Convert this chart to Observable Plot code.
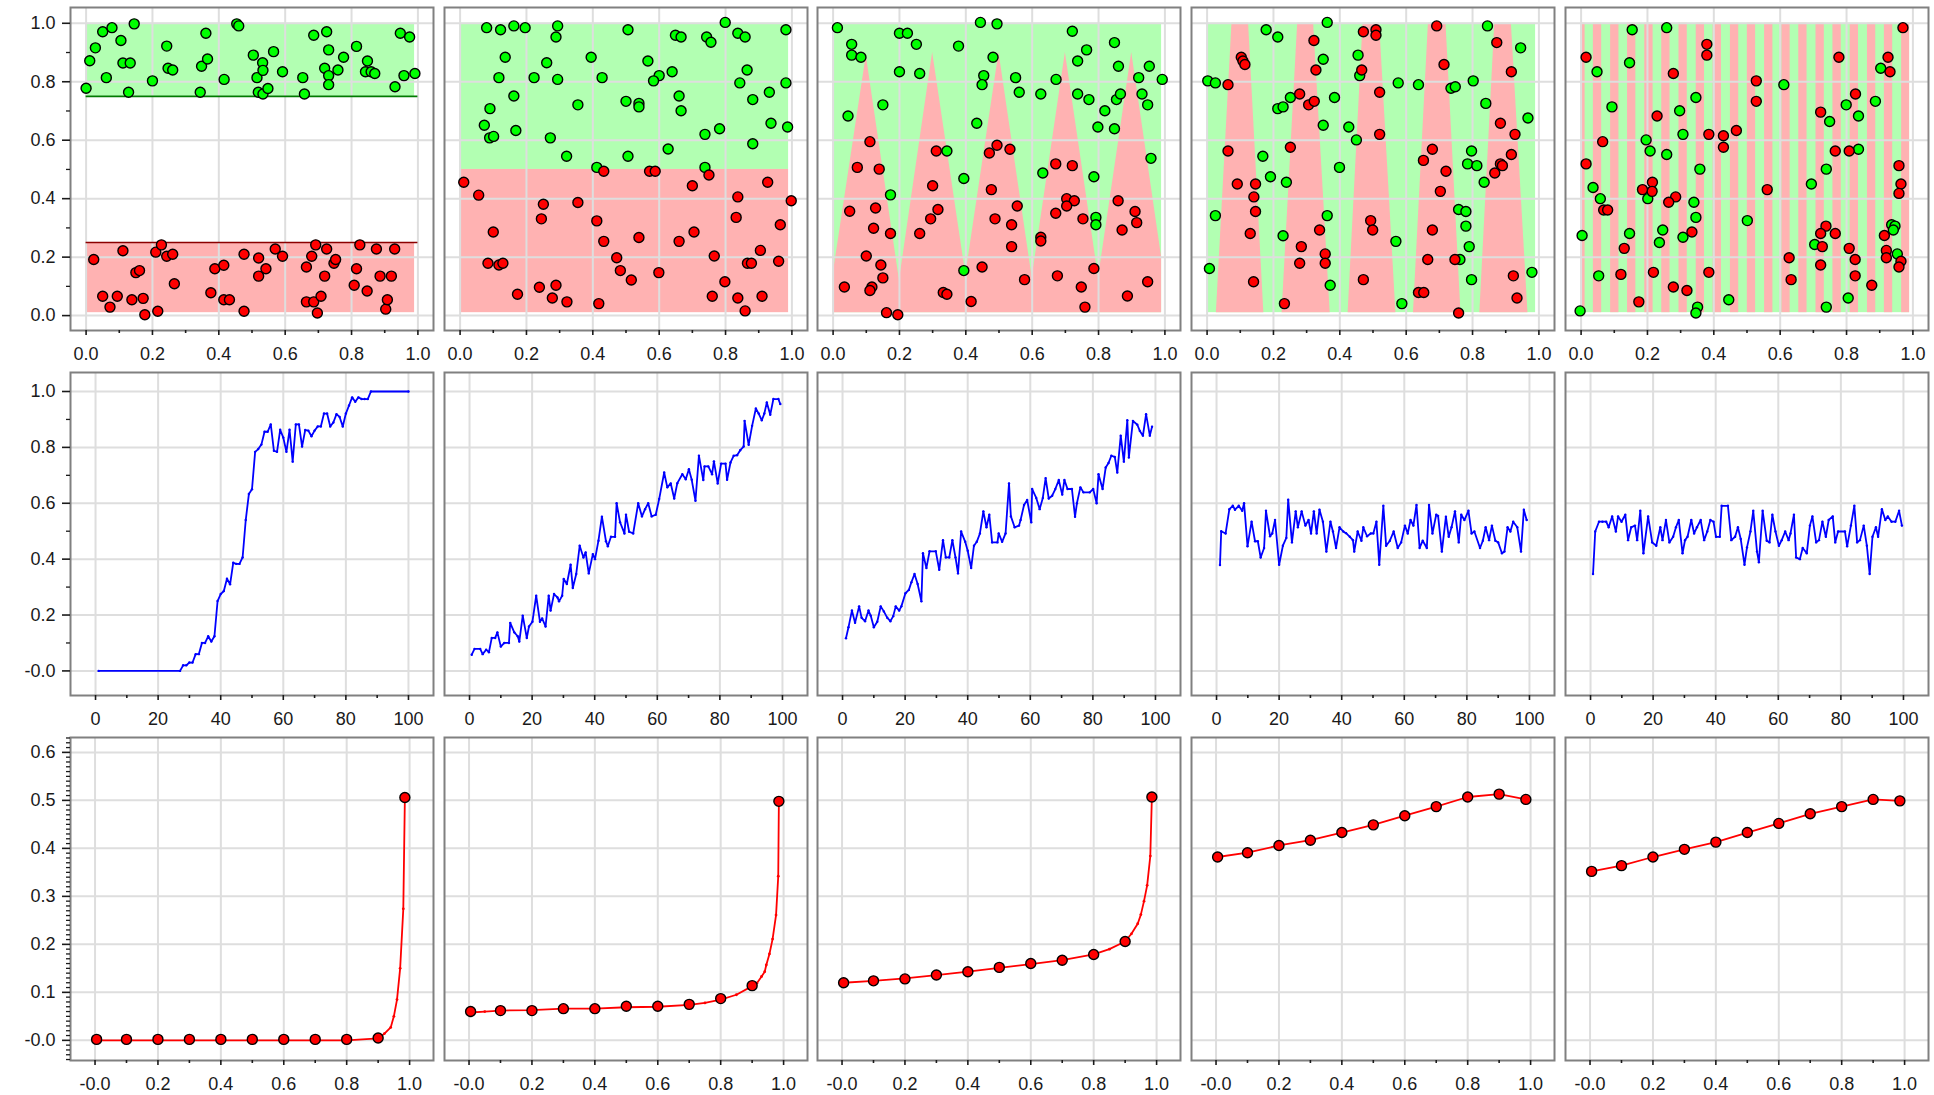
<!DOCTYPE html>
<html><head><meta charset="utf-8">
<script src="https://cdn.jsdelivr.net/npm/d3@7"></script>
<script src="https://cdn.jsdelivr.net/npm/@observablehq/plot@0.6"></script>
<style>
body{margin:0;background:#fff;}
#root{position:relative;width:1934px;height:1095px;overflow:hidden;font-family:"Liberation Sans",Arial,sans-serif;background:#fff;}
#root svg{position:absolute;}
</style></head><body><div id="root"></div>
<script>
// ---------- Row 1: scatter points (x, y) ----------
const green1=[[0,.778],[.011,.872],[.028,.916],[.05,.971],[.061,.814],[.078,.985],[.105,.941],[.111,.864],[.128,.764],[.133,.864],[.145,.998],[.2,.803],[.243,.922],[.247,.846],[.261,.84],[.344,.764],[.348,.853],[.361,.966],[.366,.878],[.416,.808],[.454,.998],[.46,.991],[.504,.891],[.515,.814],[.519,.764],[.532,.865],[.533,.839],[.533,.758],[.548,.777],[.565,.903],[.592,.834],[.653,.814],[.658,.758],[.686,.959],[.719,.846],[.725,.971],[.731,.909],[.731,.821],[.731,.79],[.759,.84],[.776,.884],[.815,.921],[.842,.834],[.848,.871],[.859,.834],[.87,.828],[.931,.783],[.947,.966],[.958,.821],[.975,.953],[.991,.828]];
const red1=[[.023,.192],[.05,.066],[.072,.029],[.094,.066],[.111,.222],[.138,.054],[.15,.147],[.161,.154],[.172,.059],[.177,.003],[.21,.217],[.216,.015],[.227,.242],[.243,.203],[.261,.21],[.266,.109],[.376,.078],[.388,.16],[.415,.172],[.415,.054],[.432,.054],[.476,.21],[.476,.015],[.52,.197],[.52,.135],[.542,.16],[.57,.228],[.592,.203],[.664,.166],[.664,.047],[.68,.203],[.686,.047],[.692,.242],[.697,.009],[.708,.066],[.719,.135],[.725,.228],[.747,.179],[.752,.192],[.808,.104],[.815,.16],[.825,.242],[.847,.084],[.875,.228],[.886,.135],[.903,.022],[.908,.054],[.92,.135],[.93,.228]];
const green2=[[.08,.985],[.122,.978],[.162,.991],[.196,.985],[.294,.991],[.289,.953],[.506,.978],[.649,.959],[.666,.953],[.743,.953],[.756,.935],[.799,1.003],[.837,.966],[.859,.953],[.982,.978],[.136,.884],[.261,.865],[.395,.884],[.566,.871],[.117,.814],[.223,.814],[.294,.808],[.428,.814],[.6,.821],[.583,.803],[.639,.834],[.865,.84],[.843,.796],[.982,.796],[.162,.751],[.5,.733],[.539,.726],[.539,.714],[.66,.751],[.882,.739],[.932,.764],[.09,.708],[.355,.721],[.666,.701],[.073,.651],[.089,.608],[.101,.613],[.168,.633],[.272,.608],[.738,.62],[.782,.639],[.937,.658],[.987,.645],[.321,.545],[.506,.545],[.627,.57],[.882,.588],[.412,.507],[.738,.507]];
const red2=[[.011,.456],[.056,.412],[.433,.494],[.571,.494],[.588,.494],[.75,.481],[.7,.444],[.927,.456],[.837,.406],[.998,.393],[.251,.381],[.355,.387],[.245,.331],[.412,.324],[.832,.336],[.965,.311],[.1,.286],[.705,.286],[.433,.254],[.539,.267],[.66,.254],[.905,.223],[.472,.198],[.766,.204],[.084,.179],[.117,.173],[.129,.179],[.866,.179],[.878,.179],[.96,.186],[.483,.154],[.599,.147],[.516,.122],[.798,.116],[.239,.097],[.289,.104],[.173,.073],[.278,.06],[.322,.047],[.418,.041],[.76,.066],[.837,.06],[.91,.066],[.859,.016]];
const green3=[[.013,.985],[.056,.928],[.056,.891],[.084,.884],[.2,.966],[.224,.966],[.251,.928],[.261,.828],[.2,.834],[.378,.922],[.444,1.003],[.494,.998],[.482,.884],[.454,.821],[.449,.79],[.55,.814],[.561,.764],[.626,.758],[.672,.808],[.721,.973],[.764,.909],[.737,.871],[.737,.758],[.771,.739],[.819,.701],[.798,.645],[.848,.639],[.848,.934],[.86,.853],[.854,.739],[.866,.758],[.921,.814],[.931,.758],[.948,.721],[.953,.853],[.992,.808],[.045,.683],[.15,.721],[.433,.658],[.343,.563],[.173,.413],[.394,.469],[.632,.488],[.786,.475],[.792,.336],[.792,.311],[.958,.538],[.394,.154]];
const red3=[[.111,.595],[.073,.507],[.139,.501],[.05,.357],[.128,.368],[.122,.299],[.173,.281],[.1,.204],[.144,.173],[.15,.129],[.034,.098],[.117,.098],[.111,.086],[.161,.01],[.195,.003],[.311,.563],[.3,.444],[.316,.363],[.294,.331],[.261,.281],[.332,.079],[.343,.073],[.416,.048],[.449,.166],[.577,.123],[.494,.583],[.471,.556],[.533,.569],[.477,.431],[.488,.331],[.555,.375],[.538,.311],[.538,.236],[.626,.268],[.626,.255],[.671,.519],[.721,.513],[.704,.4],[.727,.393],[.704,.375],[.671,.35],[.753,.331],[.786,.161],[.676,.136],[.748,.098],[.759,.029],[.859,.393],[.91,.356],[.915,.318],[.871,.293],[.887,.067],[.948,.116]];
const green4=[[.002,.803],[.025,.796],[.178,.978],[.213,.953],[.362,1.003],[.845,.991],[.945,.916],[.35,.877],[.455,.891],[.46,.821],[.576,.796],[.637,.79],[.735,.778],[.748,.783],[.802,.803],[.84,.726],[.967,.676],[.168,.545],[.191,.475],[.239,.456],[.213,.708],[.229,.714],[.251,.746],[.384,.746],[.35,.651],[.427,.645],[.45,.601],[.399,.507],[.797,.563],[.785,.519],[.813,.513],[.835,.456],[.025,.342],[.362,.342],[.229,.273],[.569,.254],[.78,.306],[.758,.363],[.78,.356],[.79,.236],[.762,.192],[.007,.161],[.371,.104],[.587,.041],[.797,.123],[.979,.148]];
const red4=[[.103,.884],[.108,.871],[.114,.859],[.063,.79],[.322,.941],[.328,.84],[.279,.758],[.306,.721],[.323,.733],[.251,.576],[.471,.971],[.509,.978],[.509,.959],[.466,.84],[.52,.764],[.52,.62],[.692,.991],[.714,.859],[.873,.934],[.917,.834],[.884,.658],[.928,.62],[.917,.551],[.884,.519],[.89,.513],[.867,.488],[.063,.563],[.091,.45],[.146,.45],[.141,.406],[.146,.356],[.13,.281],[.14,.116],[.233,.041],[.284,.236],[.279,.179],[.339,.293],[.356,.211],[.356,.179],[.471,.123],[.493,.325],[.499,.293],[.679,.569],[.652,.531],[.72,.494],[.703,.425],[.679,.293],[.665,.192],[.747,.192],[.637,.079],[.653,.079],[.758,.009],[.923,.136],[.934,.06]];
const green5=[[.154,.978],[.258,.985],[.146,.865],[.048,.834],[.093,.714],[.346,.746],[.297,.701],[.307,.62],[.611,.79],[.799,.721],[.836,.683],[.887,.733],[.903,.846],[.749,.664],[.196,.601],[.208,.563],[.258,.551],[.358,.501],[.836,.569],[.739,.501],[.694,.45],[.036,.438],[.058,.4],[.201,.4],[.34,.388],[.346,.336],[.246,.293],[.146,.281],[.003,.274],[.236,.25],[.307,.268],[.501,.325],[.704,.243],[.936,.311],[.946,.306],[.941,.293],[.953,.211],[.053,.136],[.445,.054],[.805,.06],[.739,.029],[.351,.029],[.346,.009],[-.003,.016]];
const red5=[[.015,.884],[.015,.519],[.065,.595],[.068,.361],[.08,.361],[.13,.23],[.12,.141],[.174,.047],[.218,.148],[.278,.098],[.319,.086],[.334,.286],[.285,.406],[.264,.388],[.215,.456],[.214,.425],[.185,.431],[.229,.683],[.278,.828],[.379,.928],[.379,.891],[.385,.62],[.385,.148],[.429,.615],[.429,.576],[.468,.633],[.528,.803],[.528,.733],[.561,.431],[.627,.198],[.633,.123],[.722,.696],[.777,.884],[.827,.758],[.766,.563],[.808,.563],[.738,.306],[.722,.281],[.727,.236],[.766,.281],[.808,.23],[.826,.192],[.826,.136],[.722,.173],[.876,.104],[.925,.884],[.931,.834],[.97,.985],[.958,.513],[.964,.45],[.958,.418],[.914,.274],[.92,.223],[.92,.198],[.964,.186],[.958,.166]];

// ---------- Row 1: decision regions ----------
const region1 = {greenFrom:.75, redTo:.25};          // panel 1 thresholds
const split2 = .5;                                    // panel 2 threshold
const zigzag3 = [[0,.14],[.1,.89],[.2,.12],[.3,.9],[.4,.14],[.5,.9],[.6,.13],[.7,.9],[.8,.13],[.9,.9],[.99,.2]];
const bandsTop4 = [[.075,.125],[.273,.321],[.47,.52],[.667,.72],[.867,.917]];
const bandsBottom4 = [[.028,.171],[.226,.371],[.425,.569],[.622,.765],[.822,.967]];
const stripes5 = [[0,.012],[.037,.062],[.089,.114],[.14,.165],[.192,.217],[.243,.268],[.295,.32],[.347,.372],[.398,.423],[.45,.475],[.501,.526],[.553,.578],[.605,.63],[.656,.681],[.708,.733],[.759,.784],[.811,.836],[.863,.888],[.914,.939],[.966,.99]];
const regionX = [0, .99], regionY = [.01, 1.0];

// ---------- Row 2: blue curves (x, y) ----------
const probs1=[[1,0],[27,0],[28,.02],[29,.02],[30,.03],[31,.03],[32,.06],[33,.06],[34,.1],[35,.1],[36,.124],[37,.105],[38,.124],[39,.25],[40,.275],[41,.286],[42,.33],[43,.31],[44,.387],[45,.383],[46,.383],[47,.406],[48,.54],[49,.633],[50,.65],[51,.784],[52,.794],[53,.81],[54,.856],[55,.856],[56,.882],[57,.788],[58,.784],[59,.863],[60,.835],[61,.784],[62,.863],[63,.749],[64,.882],[65,.882],[66,.803],[67,.862],[68,.86],[69,.84],[70,.86],[71,.875],[72,.875],[73,.921],[74,.921],[75,.875],[76,.889],[77,.919],[78,.909],[79,.875],[80,.921],[81,.95],[82,.979],[83,.963],[84,.979],[85,.973],[86,.973],[87,.973],[88,1],[100,1]];
const probs2=[[.7,.058],[1.6,.079],[3.4,.079],[4.2,.06],[5.3,.076],[6.2,.067],[7.1,.118],[8.2,.118],[8.9,.138],[10,.087],[11.1,.1],[12.6,.1],[13,.172],[14.3,.138],[15.4,.124],[15.9,.105],[17,.198],[18.3,.118],[19,.159],[20.1,.176],[21.3,.269],[22.5,.176],[23.2,.188],[24.3,.159],[25.3,.269],[25.9,.216],[27,.275],[28.1,.263],[28.6,.249],[29.6,.269],[30.1,.329],[31.1,.311],[32.3,.38],[33,.297],[34.1,.347],[35.2,.448],[36.4,.406],[37.1,.424],[38.1,.349],[39.4,.418],[40.1,.4],[41.2,.466],[42.3,.552],[43.6,.464],[44.2,.446],[45.2,.48],[46.5,.48],[47,.6],[48.1,.532],[49.5,.492],[50,.559],[51,.498],[52.3,.492],[53.9,.6],[55.1,.553],[56.1,.579],[57.1,.6],[58.2,.553],[59.5,.559],[60.6,.615],[62.2,.71],[63.2,.657],[64.3,.671],[65.4,.617],[66.4,.672],[68,.704],[69.1,.686],[70.1,.722],[71,.684],[72.2,.609],[73.3,.77],[74.7,.683],[75.1,.732],[76.3,.732],[77.5,.704],[78.1,.75],[79.3,.671],[80.4,.742],[81.8,.742],[82.3,.684],[83.4,.746],[84.4,.77],[85.5,.772],[86.5,.79],[87.6,.803],[87.9,.895],[89.2,.809],[90.3,.877],[91.5,.939],[92.4,.921],[93.4,.897],[94.2,.921],[95,.961],[96.1,.917],[97.1,.973],[98.7,.973],[99.3,.955]];
const probs3=[[1.1,.117],[1.9,.156],[3,.216],[4,.172],[5.3,.231],[6.1,.19],[7.2,.178],[8.3,.216],[9,.198],[10,.156],[11.1,.176],[12.2,.231],[13.2,.213],[14.3,.19],[15.3,.178],[16.2,.196],[17,.231],[18.1,.216],[18.8,.231],[20.1,.278],[21.2,.29],[22,.317],[23,.347],[24,.311],[25.2,.249],[25.7,.421],[26.8,.368],[27.8,.428],[29.8,.428],[30.9,.362],[32.1,.468],[33,.406],[34.1,.406],[35.1,.468],[36.1,.406],[36.9,.349],[37.9,.499],[39.2,.462],[40,.43],[41.1,.368],[42,.448],[42.9,.462],[43.9,.492],[45,.571],[46,.514],[46.9,.559],[47.8,.46],[49.5,.46],[49.9,.492],[51,.462],[52.1,.492],[53.2,.671],[53.8,.553],[55,.514],[56.4,.52],[56.9,.54],[58,.594],[59,.612],[60.3,.532],[60.6,.651],[61.9,.619],[63,.579],[64,.619],[64.9,.69],[65.9,.617],[67,.627],[68,.651],[69.1,.683],[70.2,.631],[70.9,.683],[71.9,.651],[73.3,.651],[74.3,.552],[74.9,.6],[76,.657],[77,.639],[79,.639],[80.1,.651],[81.2,.6],[81.8,.704],[83.1,.651],[84.1,.728],[85,.744],[85.9,.77],[87,.766],[87.8,.71],[88.9,.842],[89.9,.749],[91,.897],[91.5,.764],[92.8,.895],[94.2,.881],[95,.859],[96,.842],[97,.919],[98.2,.842],[98.9,.874]];
const probs4=[[1.1,.379],[1.5,.5],[2.9,.492],[4.1,.579],[5.2,.591],[5.9,.577],[7.1,.591],[8.2,.573],[8.8,.6],[9.9,.446],[11.2,.534],[12.3,.464],[13.2,.464],[14.1,.406],[15.2,.44],[15.8,.573],[17.1,.482],[17.8,.492],[18.7,.54],[20,.38],[21.2,.448],[22.3,.476],[22.9,.613],[24.1,.46],[25.3,.571],[26,.514],[27.2,.571],[28.4,.52],[29.4,.54],[30.2,.492],[31.1,.571],[32,.492],[32.9,.577],[34,.534],[35.1,.427],[36.4,.534],[37.2,.499],[38.2,.44],[39.3,.514],[40.5,.499],[41.4,.493],[42.6,.48],[43.6,.468],[44,.427],[45.1,.499],[46.3,.466],[46.9,.514],[48.1,.482],[49.3,.492],[50.1,.492],[51.1,.534],[52,.38],[53.3,.591],[54.2,.448],[55.4,.466],[56.6,.499],[57.9,.44],[59,.46],[60.2,.52],[61.1,.492],[62,.54],[62.9,.52],[63.9,.594],[64.9,.44],[65.9,.466],[67.2,.44],[67.9,.594],[69,.492],[70.2,.559],[70.8,.555],[72,.427],[73.3,.552],[74.2,.48],[75.1,.514],[76.2,.571],[77.4,.46],[78.2,.559],[79.2,.54],[80.5,.573],[81.5,.492],[82.4,.499],[84.2,.44],[85.1,.466],[86,.514],[87.1,.468],[88,.52],[89.1,.466],[90,.46],[91.2,.421],[92,.427],[93,.514],[93.9,.499],[94.8,.534],[96.1,.514],[97.3,.427],[98.2,.577],[99.1,.54]];
const probs5=[[.8,.347],[1.5,.499],[2.7,.534],[3.8,.534],[5,.534],[5.8,.514],[6.9,.553],[8.1,.499],[8.8,.553],[9.9,.534],[11.1,.559],[12,.468],[13,.514],[14.2,.52],[14.9,.468],[15.9,.573],[16.9,.421],[18.4,.553],[19.7,.46],[21,.448],[22.3,.514],[23,.468],[24.1,.54],[25.2,.46],[26.4,.48],[27.3,.514],[28.2,.54],[29.4,.421],[30.2,.468],[31,.48],[32.2,.54],[33.1,.492],[34,.514],[35.2,.54],[36.3,.468],[37.3,.499],[38.3,.54],[39.3,.534],[40.1,.48],[41.3,.48],[41.9,.591],[43.9,.591],[45,.468],[46.2,.48],[47.1,.514],[48,.472],[49.2,.38],[50,.442],[51.1,.499],[52,.573],[53.2,.427],[53.8,.389],[55,.573],[56.3,.466],[57.2,.46],[58.1,.559],[59.1,.499],[60.2,.448],[61.1,.468],[62.2,.499],[63.3,.468],[63.9,.492],[65,.559],[65.7,.406],[66.9,.4],[67.8,.44],[69.1,.421],[70.1,.52],[70.9,.553],[72.1,.46],[73,.468],[74.1,.534],[75.2,.48],[76.1,.54],[77.4,.553],[78.2,.46],[79.1,.499],[81.3,.499],[82,.446],[83.2,.52],[84.3,.591],[85.2,.46],[86.1,.468],[87.3,.52],[88.3,.448],[89.2,.347],[90.1,.48],[91.2,.514],[91.9,.48],[93.1,.579],[94.2,.54],[95,.553],[96.2,.534],[97.4,.534],[98.6,.573],[99.5,.52]];

// ---------- Row 3: red curves (x, y) and highlighted points ----------
const curve1=[[.005,0],[.1,0],[.2,0],[.3,0],[.4,0],[.5,0],[.6,0],[.7,0],[.8,0],[.9,.004],[.92,.014],[.94,.027],[.95,.05],[.96,.085],[.97,.15],[.98,.274],[.985,.506]];
const marks1=[[.005,.002],[.1,.002],[.2,.002],[.3,.002],[.4,.002],[.5,.002],[.6,.002],[.7,.002],[.8,.002],[.9,.005],[.985,.506]];
const curve2=[[.005,.058],[.05,.06],[.1,.062],[.2,.063],[.3,.066],[.4,.066],[.5,.069],[.6,.07],[.7,.074],[.75,.078],[.8,.085],[.85,.095],[.9,.113],[.915,.119],[.93,.133],[.94,.143],[.945,.157],[.955,.18],[.965,.211],[.976,.261],[.983,.342],[.985,.498]];
const marks2=[[.005,.06],[.1,.062],[.2,.062],[.3,.066],[.4,.066],[.5,.071],[.6,.071],[.7,.075],[.8,.087],[.9,.114],[.985,.498]];
const curve3=[[.005,.12],[.1,.124],[.2,.129],[.3,.136],[.4,.143],[.5,.151],[.6,.159],[.7,.167],[.8,.179],[.85,.19],[.9,.206],[.92,.222],[.94,.243],[.95,.262],[.96,.29],[.97,.323],[.98,.384],[.985,.507]];
const marks3=[[.005,.12],[.1,.124],[.2,.128],[.3,.136],[.4,.143],[.5,.152],[.6,.16],[.7,.167],[.8,.179],[.9,.206],[.985,.507]];
const marks4=[[.005,.382],[.1,.391],[.2,.406],[.3,.417],[.4,.433],[.5,.449],[.6,.468],[.7,.487],[.8,.507],[.9,.513],[.985,.502]];
const marks5=[[.005,.352],[.1,.364],[.2,.382],[.3,.398],[.4,.413],[.5,.433],[.6,.452],[.7,.472],[.8,.487],[.9,.502],[.985,.499]];
const curve4 = marks4, curve5 = marks5;

// ---------- Ticks and labels ----------
const ticks01 = [0,.2,.4,.6,.8,1.0];
const minor01 = [.1,.3,.5,.7,.9];
const xLabelsTop = ["0.0","0.2","0.4","0.6","0.8","1.0"];
const xLabelsBottom = ["-0.0","0.2","0.4","0.6","0.8","1.0"];
const yLabelsTop = ["0.0","0.2","0.4","0.6","0.8","1.0"];
const yLabelsMid = ["-0.0","0.2","0.4","0.6","0.8","1.0"];
const ticksIter = [0,20,40,60,80,100];
const minorIter = [10,30,50,70,90];
const iterLabels = ["0","20","40","60","80","100"];
const ticksErr = [0,.1,.2,.3,.4,.5,.6];
const errLabels = ["-0.0","0.1","0.2","0.3","0.4","0.5","0.6"];

// ---------- layout ----------
const COL_LEFT=[70,444,817,1191,1565], ROW_TOP=[7,372,737], W=363, H=323;
const LIGHT_G="#b2ffb2", LIGHT_R="#ffb2b2", GRID="#dedede";
const root=document.getElementById("root");
const P = a => a.map(([x,y])=>({x,y}));
const fmt = (vals, labels) => d => labels[vals.findIndex(v=>Math.abs(v-d)<1e-9)];

function panel(row,col,cfg){
  const ml = col===0?72:4, mr=4, mt=2, mb=42;
  const m = [];
  m.push(...cfg.back);
  m.push(Plot.gridX(cfg.xt,{stroke:GRID,strokeOpacity:1,strokeWidth:2}));
  m.push(Plot.gridY(cfg.yt,{stroke:GRID,strokeOpacity:1,strokeWidth:2}));
  m.push(...cfg.front);
  m.push(Plot.frame({stroke:"#808080",strokeWidth:2}));
  m.push(Plot.axisX(cfg.xt,{anchor:"bottom",tickSize:5,tickPadding:12,fontSize:18,strokeWidth:1.6,label:null,tickFormat:fmt(cfg.xt,cfg.xl)}));
  m.push(Plot.axisX(cfg.xm,{anchor:"bottom",tickSize:3,strokeWidth:1.6,label:null,fill:"none"}));
  if(col===0){
    m.push(Plot.axisY(cfg.yt,{anchor:"left",tickSize:8,tickPadding:7,fontSize:18,strokeWidth:1.6,label:null,tickFormat:fmt(cfg.yt,cfg.yl)}));
    m.push(Plot.axisY(cfg.ym,{anchor:"left",tickSize:4,strokeWidth:1.3,label:null,fill:"none"}));
  }
  const svg = Plot.plot({
    width:W+ml+mr, height:H+mt+mb, marginLeft:ml, marginRight:mr, marginTop:mt, marginBottom:mb,
    x:{domain:cfg.xd}, y:col===0?{domain:cfg.yd}:{domain:cfg.yd,axis:null},
    style:{background:"transparent",fontFamily:'"Liberation Sans",Arial,sans-serif',fontSize:"18px",color:"#1a1a1a",overflow:"visible"},
    marks:m
  });
  svg.style.left=(COL_LEFT[col]-ml)+"px";
  svg.style.top=(ROW_TOP[row]-mt)+"px";
  root.appendChild(svg);
}

// Row 1
const xdTop=[-.047,1.047], ydTop=[-.051,1.054];
const dotsOf = (g,r) => [
  Plot.dot(P(g),{x:"x",y:"y",r:5,fill:"#00ff00",stroke:"#000",strokeWidth:1.4}),
  Plot.dot(P(r),{x:"x",y:"y",r:5,fill:"#ff0000",stroke:"#000",strokeWidth:1.4})
];
const rectOf = (x1,x2,y1,y2,fill) => Plot.rect([{x1,x2,y1,y2}],{x1:"x1",x2:"x2",y1:"y1",y2:"y2",fill});
const fullGreen = rectOf(regionX[0],regionX[1],regionY[0],regionY[1],LIGHT_G);
const topRegions = [
  [rectOf(regionX[0],regionX[1],region1.greenFrom,regionY[1],LIGHT_G), rectOf(regionX[0],regionX[1],regionY[0],region1.redTo,LIGHT_R)],
  [rectOf(regionX[0],regionX[1],split2,regionY[1],LIGHT_G), rectOf(regionX[0],regionX[1],regionY[0],split2,LIGHT_R)],
  [fullGreen, Plot.areaY(zigzag3.map(([x,y])=>({x,lo:regionY[0],hi:y})),{x:"x",y1:"lo",y2:"hi",fill:LIGHT_R})],
  [fullGreen, Plot.areaX(bandsTop4.flatMap((t,i)=>[{b:i,y:regionY[0],x1:bandsBottom4[i][0],x2:bandsBottom4[i][1]},{b:i,y:regionY[1],x1:t[0],x2:t[1]}]),{y:"y",x1:"x1",x2:"x2",z:"b",fill:LIGHT_R})],
  [fullGreen, Plot.rect(stripes5.map(([a,b])=>({x1:a,x2:b,y1:regionY[0],y2:regionY[1]})),{x1:"x1",x2:"x2",y1:"y1",y2:"y2",fill:LIGHT_R})]
];
const greens=[green1,green2,green3,green4,green5], reds=[red1,red2,red3,red4,red5];
for(let c=0;c<5;c++){
  const front=[];
  if(c===0){
    front.push(Plot.ruleY([{y:region1.greenFrom,a:0,b:1}],{y:"y",x1:"a",x2:"b",stroke:"#007a00",strokeWidth:1.6}));
    front.push(Plot.ruleY([{y:region1.redTo,a:0,b:1}],{y:"y",x1:"a",x2:"b",stroke:"#8b0000",strokeWidth:1.6}));
  }
  front.push(...dotsOf(greens[c],reds[c]));
  panel(0,c,{back:topRegions[c],front,xd:xdTop,yd:ydTop,xt:ticks01,xm:minor01,xl:xLabelsTop,yt:ticks01,ym:minor01,yl:yLabelsTop});
}

// Row 2
const probs=[probs1,probs2,probs3,probs4,probs5];
for(let c=0;c<5;c++){
  const d=P(probs[c]);
  panel(1,c,{back:[],front:[
    Plot.line(d,{x:"x",y:"y",stroke:"#0000ff",strokeWidth:1.8}),
    Plot.dot(d,{x:"x",y:"y",r:1.2,fill:"#0000ff"})
  ],xd:[-8,108],yd:[-.088,1.068],xt:ticksIter,xm:minorIter,xl:iterLabels,yt:ticks01,ym:minor01,yl:yLabelsMid});
}

// Row 3
const curves=[curve1,curve2,curve3,curve4,curve5], bigs=[marks1,marks2,marks3,marks4,marks5];
const errMinor = d3.range(-4,64).map(i=>i/100).filter(v=>Math.abs(v*10-Math.round(v*10))>1e-6);
for(let c=0;c<5;c++){
  const d=P(curves[c]);
  panel(2,c,{back:[],front:[
    Plot.line(d,{x:"x",y:"y",stroke:"#ff0000",strokeWidth:1.8}),
    Plot.dot(d,{x:"x",y:"y",r:1.4,fill:"#ff0000"}),
    Plot.dot(P(bigs[c]),{x:"x",y:"y",r:5,fill:"#ff0000",stroke:"#000",strokeWidth:1.4})
  ],xd:[-.078,1.076],yd:[-.042,.631],xt:ticks01,xm:minor01,xl:xLabelsBottom,yt:ticksErr,ym:errMinor,yl:errLabels});
}
</script></body></html>
